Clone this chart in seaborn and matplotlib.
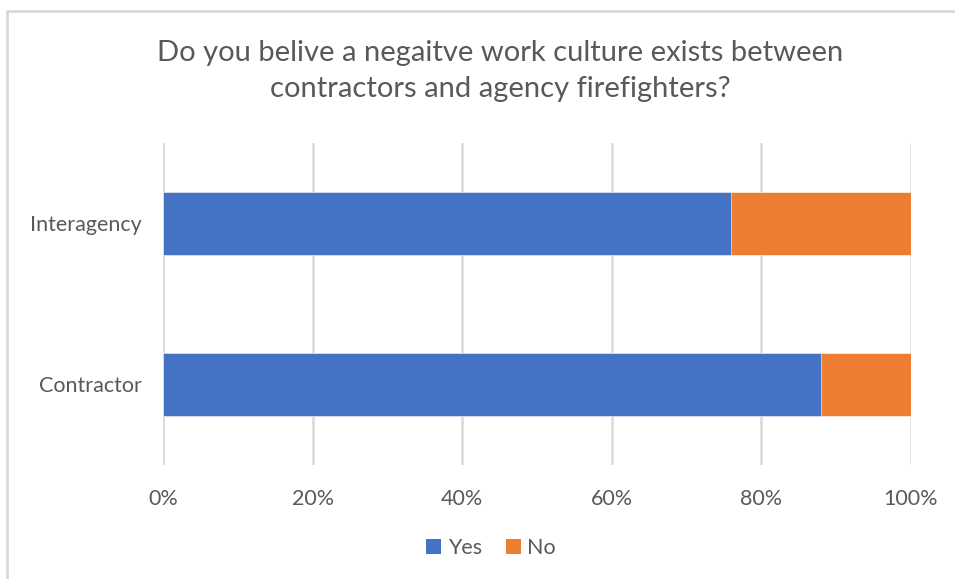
import matplotlib
matplotlib.use("Agg")
import matplotlib.pyplot as plt
from matplotlib.lines import Line2D
from matplotlib.patches import Patch
import seaborn as sns
import pandas as pd

# Survey responses (% of respondents)
groups = ["Interagency", "Contractor"]
yes_pct = [76, 88]
no_pct = [24, 12]
xtick_vals = [0, 20, 40, 60, 80, 100]
xtick_labels = ["0%", "20%", "40%", "60%", "80%", "100%"]

BLUE = "#4472C4"
ORANGE = "#ED7D31"
TEXT = "#595959"
GRID = "#D9D9D9"

sns.set_theme(style="white")
plt.rcParams["font.family"] = ["Lato", "DejaVu Sans"]

df = pd.DataFrame({"group": groups, "yes": yes_pct, "no": no_pct})
df["total"] = df["yes"] + df["no"]

fig = plt.figure(figsize=(9.55, 5.79), dpi=100)
ax = fig.add_axes([163 / 955, 1 - 465 / 579, 748 / 955, 322 / 579])

# stacked bars: full length (Yes + No) in orange, Yes drawn over it in blue
sns.barplot(data=df, y="group", x="total", order=groups, orient="h",
            color=ORANGE, width=0.39, saturation=1, ax=ax, zorder=3,
            edgecolor="white", linewidth=0.4)
sns.barplot(data=df, y="group", x="yes", order=groups, orient="h",
            color=BLUE, width=0.39, saturation=1, ax=ax, zorder=4,
            edgecolor="white", linewidth=0.4)

ax.set_xlim(0, 100)
ax.set_ylim(1.5, -0.5)
ax.set_xticks(xtick_vals)
ax.set_xticklabels(xtick_labels)
ax.xaxis.grid(True, color=GRID, linewidth=1.8, zorder=0)
ax.set_axisbelow(True)
for s in ax.spines.values():
    s.set_visible(False)
ax.tick_params(axis="both", length=0, colors=TEXT, labelsize=15.5)
ax.tick_params(axis="x", pad=17)
ax.tick_params(axis="y", pad=15)
ax.set_xlabel("")
ax.set_ylabel("")

fig.text(500 / 955, 1 - 71 / 579,
         "Do you belive a negaitve work culture exists between\ncontractors and agency firefighters?",
         ha="center", va="center", fontsize=21, color=TEXT, linespacing=1.5)

handles = [Patch(facecolor=BLUE, edgecolor="none", label="Yes"),
           Patch(facecolor=ORANGE, edgecolor="none", label="No")]
fig.legend(handles=handles, loc="center", bbox_to_anchor=(491 / 955, 1 - 548 / 579),
           ncol=2, frameon=False, fontsize=15.5, labelcolor=TEXT,
           handlelength=0.7, handleheight=0.7, handletextpad=0.3,
           columnspacing=1.1)

# chart frame (top and left edges)
fig.add_artist(Line2D([7 / 955, 7 / 955], [0, 1 - 11 / 579], transform=fig.transFigure,
                      color=GRID, linewidth=2))
fig.add_artist(Line2D([7 / 955, 1], [1 - 11 / 579, 1 - 11 / 579], transform=fig.transFigure,
                      color=GRID, linewidth=2))

fig.savefig("out.png", dpi=100, facecolor="white")
